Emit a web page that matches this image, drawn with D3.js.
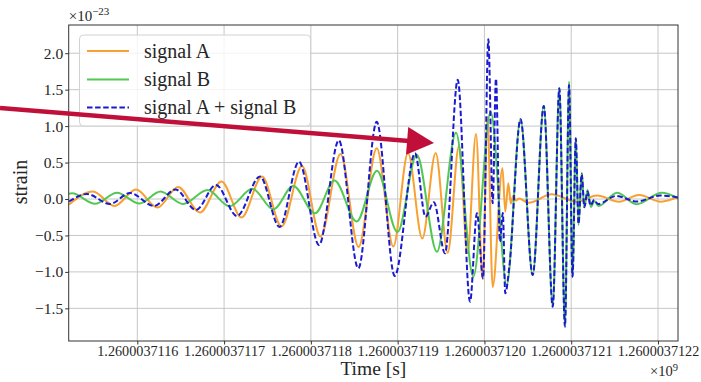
<!DOCTYPE html>
<html><head><meta charset="utf-8">
<script src="https://cdn.jsdelivr.net/npm/d3@7"></script>
<style>
body{margin:0;background:#fff}
svg{display:block}
text{font-family:"Liberation Serif","Times New Roman",serif;fill:#262626}
</style>
</head><body>
<svg id="chart" width="701" height="382"></svg>
<script>
// ---- data (strain in units of 1e-23, time in GPS seconds) ----
const timeA = [1260003711.5213,1260003711.5490,1260003711.5737,1260003711.5985,1260003711.6233,1260003711.6469,1260003711.6722,1260003711.6970,1260003711.7201,1260003711.7437,1260003711.7662,1260003711.7898,1260003711.8111,1260003711.8342,1260003711.8549,1260003711.8759,1260003711.8950,1260003711.9119,1260003711.9284,1260003711.9438,1260003711.9577,1260003711.9707,1260003711.9805,1260003711.9903,1260003711.9980,1260003712.0035,1260003712.0095,1260003712.0208,1260003712.0240,1260003712.0275,1260003712.0304,1260003712.0333,1260003712.0364,1260003712.0398,1260003712.0508,1260003712.0775,1260003712.1063,1260003712.1297,1260003712.1551,1260003712.1781,1260003712.2035,1260003712.2230];
const strainA = [-0.075,0.103,-0.096,0.130,-0.117,0.165,-0.185,0.240,-0.254,0.309,-0.377,0.453,-0.514,0.617,-0.658,0.695,-0.652,0.631,-0.542,0.631,-0.737,0.727,-0.741,0.892,-1.097,1.125,-1.207,0.421,-0.174,0.215,-0.062,0.048,-0.021,0.007,-0.051,0.064,-0.037,0.048,-0.037,0.055,-0.037,0.027];

const timeB = [1260003711.5213,1260003711.5248,1260003711.5513,1260003711.5766,1260003711.6025,1260003711.6267,1260003711.6527,1260003711.6809,1260003711.7062,1260003711.7327,1260003711.7567,1260003711.7798,1260003711.8048,1260003711.8272,1260003711.8528,1260003711.8762,1260003711.8998,1260003711.9220,1260003711.9453,1260003711.9672,1260003711.9872,1260003712.0072,1260003712.0257,1260003712.0416,1260003712.0556,1260003712.0684,1260003712.0787,1260003712.0863,1260003712.0928,1260003712.0975,1260003712.1015,1260003712.1053,1260003712.1084,1260003712.1121,1260003712.1151,1260003712.1188,1260003712.1228,1260003712.1268,1260003712.1314,1260003712.1528,1260003712.1752,1260003712.2043,1260003712.2230];
const strainB = [0.071,0.078,-0.066,0.086,-0.062,0.103,-0.069,0.123,-0.100,0.140,-0.141,0.178,-0.196,0.254,-0.309,0.388,-0.453,0.608,-0.723,0.909,-1.066,1.198,-1.180,1.093,-1.043,1.276,-1.477,1.519,-1.728,1.609,-1.066,0.833,-0.357,0.361,-0.117,0.123,-0.110,-0.027,-0.096,0.086,-0.071,0.086,0.010];

const timeSum = [1260003711.5213,1260003711.5420,1260003711.5685,1260003711.5916,1260003711.6192,1260003711.6440,1260003711.6676,1260003711.6907,1260003711.7149,1260003711.7414,1260003711.7639,1260003711.7863,1260003711.8094,1260003711.8322,1260003711.8547,1260003711.8759,1260003711.8966,1260003711.9200,1260003711.9321,1260003711.9417,1260003711.9546,1260003711.9692,1260003711.9834,1260003711.9914,1260003711.9984,1260003712.0045,1260003712.0095,1260003712.0133,1260003712.0179,1260003712.0212,1260003712.0240,1260003712.0287,1260003712.0416,1260003712.0556,1260003712.0684,1260003712.0787,1260003712.0863,1260003712.0928,1260003712.0975,1260003712.1015,1260003712.1053,1260003712.1084,1260003712.1121,1260003712.1151,1260003712.1188,1260003712.1222,1260003712.1263,1260003712.1309,1260003712.1516,1260003712.1758,1260003712.2023,1260003712.2230];
const strainSum = [-0.034,0.069,-0.069,0.082,-0.096,0.130,-0.151,0.192,-0.233,0.309,-0.384,0.512,-0.631,0.805,-0.951,1.060,-1.056,0.627,-0.243,-0.044,-0.745,1.636,-1.409,-0.196,-1.088,2.191,-0.059,1.650,-0.586,-0.192,-1.294,-0.929,1.093,-1.043,1.276,-1.477,1.519,-1.752,1.564,-1.066,0.833,-0.343,0.343,-0.110,0.103,-0.089,-0.014,-0.069,0.041,-0.034,0.048,0.021];

const seriesNames = ["signal A", "signal B", "signal A + signal B"];
const xTicks = [1260003711.6,1260003711.7,1260003711.8,1260003711.9,1260003712.0,1260003712.1,1260003712.2];
const yTicks = [-1.5,-1.0,-0.5,0.0,0.5,1.0,1.5,2.0];
const xLimits = [1260003711.52095, 1260003712.22305];
const yLimits = [-1.948, 2.387];
// annotation arrow (data coords): start, tip
const arrowTime = [1260003711.4418, 1260003711.9419];
const arrowStrain = [1.248, 0.768];

// ---- layout ----
const svg = d3.select("#chart");
const L = 68.7, R = 678, T = 25, B = 341;
const x = d3.scaleLinear().domain(xLimits).range([L, R]);
const y = d3.scaleLinear().domain(yLimits).range([B, T]);
const colors = ["#f8a030", "#52c852", "#1a1ad0"];

svg.append("defs").append("clipPath").attr("id","clip")
  .append("rect").attr("x",L).attr("y",T).attr("width",R-L).attr("height",B-T);

// grid
const grid = svg.append("g").attr("stroke","#c6c6c6").attr("stroke-width",1);
grid.selectAll(".gx").data(xTicks).join("line")
  .attr("x1",d=>x(d)).attr("x2",d=>x(d)).attr("y1",T).attr("y2",B);
grid.selectAll(".gy").data(yTicks).join("line")
  .attr("y1",d=>y(d)).attr("y2",d=>y(d)).attr("x1",L).attr("x2",R);

// axes
const fmtY = d => d.toFixed(1).replace("-", "\u2212");
const xAxis = svg.append("g").attr("transform",`translate(0,${B})`)
  .call(d3.axisBottom(x).tickValues(xTicks).tickFormat(d => (d/1e9).toFixed(10)).tickSize(3.5).tickPadding(1.5));
const yAxis = svg.append("g").attr("transform",`translate(${L},0)`)
  .call(d3.axisLeft(y).tickValues(yTicks).tickFormat(fmtY).tickSize(3.5).tickPadding(2));
[xAxis, yAxis].forEach(g => {
  g.select(".domain").remove();
  g.selectAll(".tick line").attr("stroke","#333");
  g.selectAll("text").attr("font-family",'"Liberation Serif",serif').attr("fill","#262626");
});
xAxis.selectAll("text").attr("font-size","14.2px");
yAxis.selectAll("text").attr("font-size","15.5px");

// lines
const plot = svg.append("g").attr("clip-path","url(#clip)");
const series = [[timeA,strainA],[timeB,strainB],[timeSum,strainSum]];
series.forEach(([ts, vs], k) => {
  const line = d3.line().x(i => x(ts[i])).y(i => y(vs[i])).curve(d3.curveMonotoneX);
  plot.append("path").attr("d", line(d3.range(ts.length)))
    .attr("fill","none").attr("stroke",colors[k])
    .attr("stroke-width", 2)
    .attr("stroke-dasharray", k===2 ? "5.5,2.6" : null)
    .attr("stroke-linejoin","round");
});

// frame
svg.append("rect").attr("x",L).attr("y",T).attr("width",R-L).attr("height",B-T)
  .attr("fill","none").attr("stroke","#333").attr("stroke-width",1);

// labels
svg.append("text").attr("x",(L+R)/2).attr("y",375).attr("text-anchor","middle")
  .attr("font-size","19.5px").text("Time [s]");
svg.append("text").attr("transform","translate(27,182) rotate(-90)").attr("text-anchor","middle")
  .attr("font-size","20px").text("strain");
const offX = svg.append("text").attr("x",R).attr("y",376).attr("text-anchor","end").attr("font-size","14.5px");
offX.append("tspan").text("\u00d710");
offX.append("tspan").attr("dy",-5.5).attr("font-size","10.5px").text("9");
const offY = svg.append("text").attr("x",L).attr("y",21).attr("font-size","15px");
offY.append("tspan").text("\u00d710");
offY.append("tspan").attr("dy",-6).attr("font-size","11px").text("\u221223");

// legend
const lg = svg.append("g");
lg.append("rect").attr("x",79.5).attr("y",35).attr("width",231).attr("height",91).attr("rx",4)
  .attr("fill","#fff").attr("fill-opacity",0.8).attr("stroke","#d2d2d2");
const rowY = [51, 79.5, 107.5];
seriesNames.forEach((name, k) => {
  lg.append("line").attr("x1",87).attr("x2",129).attr("y1",rowY[k]).attr("y2",rowY[k])
    .attr("stroke",colors[k]).attr("stroke-width", 2)
    .attr("stroke-dasharray", k===2 ? "5.5,2.6" : null);
  lg.append("text").attr("x",144).attr("y",rowY[k]+6.5).attr("font-size","20px").text(name);
});

// annotation arrow
const ax0 = x(arrowTime[0]), ay0 = y(arrowStrain[0]);
const ax1 = x(arrowTime[1]), ay1 = y(arrowStrain[1]);
const len = Math.hypot(ax1-ax0, ay1-ay0), ux = (ax1-ax0)/len, uy = (ay1-ay0)/len;
const headL = 27, headW = 14;
const bx = ax1 - ux*headL, by = ay1 - uy*headL;
svg.append("line").attr("x1",ax0).attr("y1",ay0).attr("x2",bx+ux*2).attr("y2",by+uy*2)
  .attr("stroke","#c0103a").attr("stroke-width",4.5);
svg.append("polygon")
  .attr("points",[[ax1,ay1],[bx - uy*headW, by + ux*headW],[bx + uy*headW, by - ux*headW]].map(p=>p.join(",")).join(" "))
  .attr("fill","#c0103a");
</script>
</body></html>
